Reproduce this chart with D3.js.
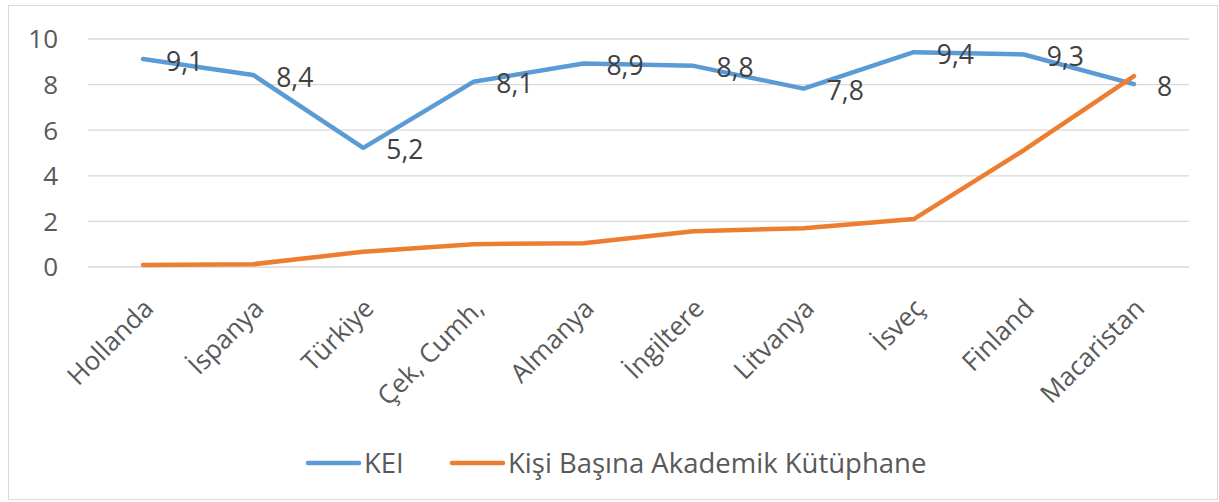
<!DOCTYPE html>
<html>
<head>
<meta charset="utf-8">
<script src="https://cdn.jsdelivr.net/npm/d3@7"></script>
<style>
  body { margin: 0; background: #fff; }
  text { font-family: "Open Sans", "Noto Sans", sans-serif; }
</style>
</head>
<body>
<div id="chart"></div>
<script>
var countries = ["Hollanda", "İspanya", "Türkiye", "Çek, Cumh,", "Almanya", "İngiltere", "Litvanya", "İsveç", "Finland", "Macaristan"];
var keiValues = [9.1, 8.4, 5.2, 8.1, 8.9, 8.8, 7.8, 9.4, 9.3, 8];
var libraryValues = [0.07, 0.1, 0.65, 0.98, 1.02, 1.55, 1.68, 2.08, 5.1, 8.35];
var yTicks = [0, 2, 4, 6, 8, 10];
var seriesNames = ["KEI", "Kişi Başına Akademik Kütüphane"];

var W = 1219, H = 502;
var PLOT = {left: 88, right: 1189, top: 38.5, bottom: 266.5};

var svg = d3.select("#chart").append("svg")
  .attr("width", W).attr("height", H);

// chart border
svg.append("rect")
  .attr("x", 8.5).attr("y", 5.5)
  .attr("width", W - 10).attr("height", H - 8)
  .attr("fill", "#fff").attr("stroke", "#d9d9d9").attr("stroke-width", 1);

var x = d3.scalePoint()
  .domain(countries)
  .range([PLOT.left, PLOT.right])
  .padding(0.5);

var y = d3.scaleLinear()
  .domain([0, 10])
  .range([PLOT.bottom, PLOT.top]);

// gridlines + y labels
var yAxis = d3.axisLeft(y)
  .tickValues(yTicks)
  .tickSize(-(PLOT.right - PLOT.left))
  .tickPadding(30)
  .tickFormat(d3.format("d"));

var gy = svg.append("g")
  .attr("transform", "translate(" + PLOT.left + ",0)")
  .call(yAxis);
gy.select(".domain").remove();
gy.selectAll(".tick line").attr("stroke", "#d9d9d9").attr("stroke-width", 1.3);
gy.selectAll(".tick text")
  .attr("x", -30)
  .attr("dy", "0.36em")
  .attr("fill", "#595959")
  .style("font-size", "26px");

// x labels
svg.append("g").selectAll("text")
  .data(countries)
  .enter().append("text")
  .attr("transform", function(d) { return "translate(" + (x(d) + 12) + ",310) rotate(-45)"; })
  .attr("text-anchor", "end")
  .attr("fill", "#595959")
  .style("font-size", "26px")
  .text(function(d) { return d; });

var line = d3.line()
  .x(function(d, i) { return x(countries[i]); })
  .y(function(d) { return y(d); });

var colors = ["#5b9bd5", "#ed7d31"];

svg.append("path")
  .datum(keiValues)
  .attr("d", line)
  .attr("fill", "none")
  .attr("stroke", colors[0])
  .attr("stroke-width", 4.5)
  .attr("stroke-linejoin", "round")
  .attr("stroke-linecap", "round");

svg.append("path")
  .datum(libraryValues)
  .attr("d", line)
  .attr("fill", "none")
  .attr("stroke", colors[1])
  .attr("stroke-width", 4.5)
  .attr("stroke-linejoin", "round")
  .attr("stroke-linecap", "round");

// data labels for KEI
var fmt = function(v) { return String(v).replace(".", ","); };
svg.append("g").selectAll("text")
  .data(keiValues)
  .enter().append("text")
  .attr("x", function(d, i) { return x(countries[i]) + 23; })
  .attr("y", function(d) { return y(d) + 2; })
  .attr("dy", "0.36em")
  .attr("fill", "#404040")
  .style("font-size", "26.5px")
  .text(fmt);

// legend
var legendItems = [
  {name: seriesNames[0], color: colors[0], x: 306},
  {name: seriesNames[1], color: colors[1], x: 450}
];
var lg = svg.append("g").selectAll("g")
  .data(legendItems)
  .enter().append("g")
  .attr("transform", function(d) { return "translate(" + d.x + ",463)"; });
lg.append("line")
  .attr("x1", 2).attr("x2", 53)
  .attr("stroke", function(d) { return d.color; })
  .attr("stroke-width", 4.5)
  .attr("stroke-linecap", "round");
lg.append("text")
  .attr("x", 58)
  .attr("dy", "0.36em")
  .attr("fill", "#595959")
  .style("font-size", "27.5px")
  .text(function(d) { return d.name; });
</script>
</body>
</html>
